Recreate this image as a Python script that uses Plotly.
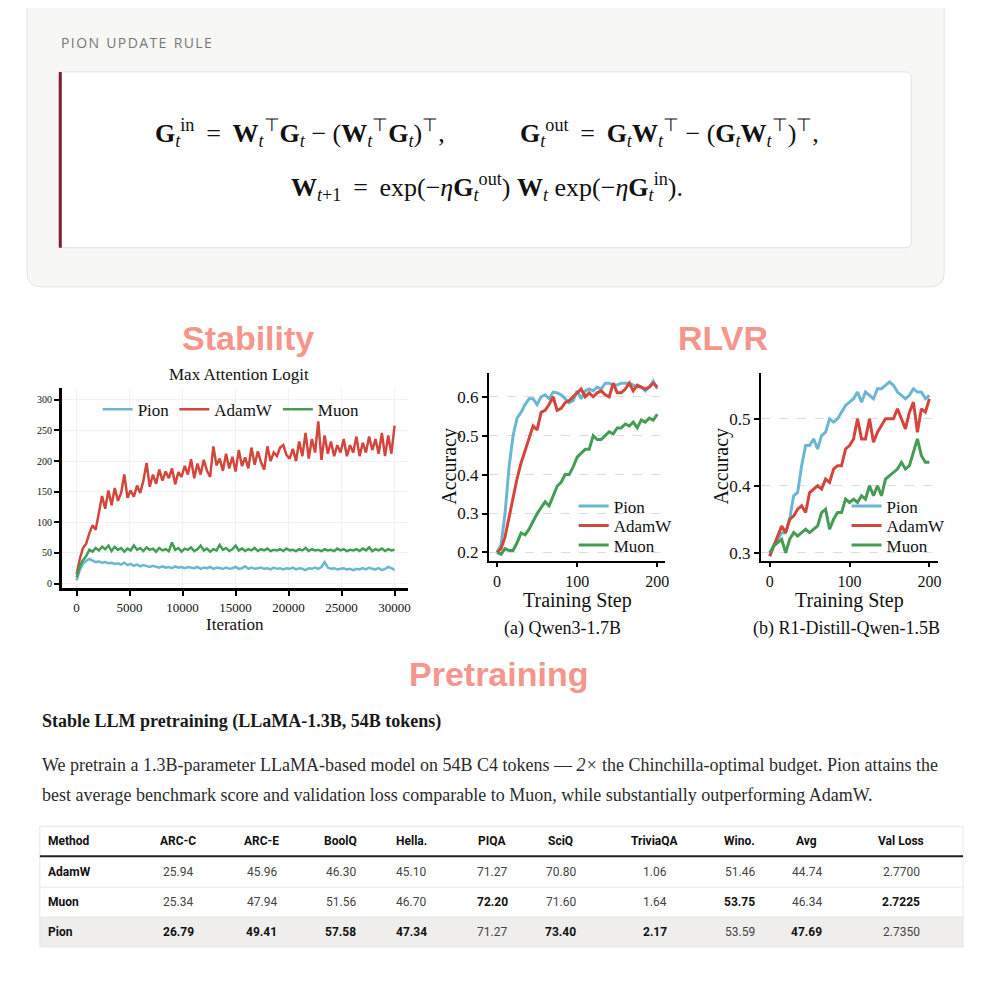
"""Pion optimizer summary - equations, stability / RLVR curves and pretraining table"""

import numpy as np
import plotly.graph_objects as go

PAGE = 993
OFF = 8            # body margin of the page around the plot
W = H = PAGE - 2 * OFF

# Max Attention Logit (sampled every 300 iterations, 0..30000)
attn_pion = [
    5, 22, 32, 37, 40, 37, 35, 36, 34, 35, 33, 34, 32, 33, 31, 34, 30, 32, 29, 31,
    28, 30, 29, 27, 29, 27, 26, 28, 26, 27, 25, 28, 26, 27, 25, 27, 26, 25, 27, 24,
    26, 25, 27, 24, 26, 25, 24, 26, 24, 25, 27, 24, 25, 28, 24, 26, 24, 25, 26, 24,
    25, 23, 26, 24, 25, 23, 25, 24, 26, 23, 25, 24, 22, 25, 24, 26, 24, 27, 35, 26,
    24, 25, 23, 24, 25, 23, 24, 22, 24, 23, 25, 23, 26, 24, 23, 25, 22, 24, 27, 25,
    22,
]
attn_adamw = [
    15, 40, 58, 65, 82, 95, 88, 118, 143, 122, 152, 128, 156, 135, 148, 178, 140, 152, 142, 160,
    148, 168, 197, 158, 178, 163, 186, 168, 183, 172, 188, 162, 182, 174, 192, 178, 203, 172, 196, 178,
    202, 184, 174, 224, 193, 204, 184, 212, 188, 207, 183, 218, 192, 206, 188, 222, 194, 216, 198, 186,
    224, 200, 214, 208, 222, 226, 210, 204, 220, 200, 232, 208, 246, 204, 236, 214, 265, 202, 242, 212,
    232, 208, 226, 214, 236, 208, 226, 214, 240, 208, 230, 214, 240, 218, 236, 212, 246, 208, 242, 212,
    258,
]
attn_muon = [
    10, 28, 38, 45, 55, 52, 58, 54, 60, 56, 62, 53, 60, 55, 58, 52, 57, 54, 62, 55,
    58, 53, 59, 55, 57, 52, 58, 54, 56, 53, 67, 55, 58, 52, 57, 55, 59, 53, 56, 62,
    54, 57, 52, 56, 54, 63, 55, 58, 53, 56, 62, 54, 57, 53, 56, 54, 58, 53, 56, 54,
    57, 53, 55, 54, 56, 53, 57, 54, 55, 53, 56, 54, 58, 53, 56, 54, 55, 53, 56, 54,
    55, 53, 57, 54, 56, 53, 55, 54, 56, 53, 57, 54, 59, 53, 56, 54, 57, 53, 56, 54,
    55,
]

# RLVR accuracy (every 5 training steps, 0..200)
qwen_pion = [
    0.200, 0.220, 0.300, 0.420, 0.500, 0.545, 0.560, 0.580, 0.595, 0.595, 0.580, 0.600,
    0.605, 0.595, 0.612, 0.610, 0.605, 0.595, 0.585, 0.590, 0.615, 0.595, 0.615, 0.620,
    0.615, 0.625, 0.620, 0.635, 0.635, 0.630, 0.630, 0.635, 0.635, 0.635, 0.630, 0.625,
    0.625, 0.615, 0.625, 0.640, 0.620,
]
qwen_adamw = [
    0.200, 0.210, 0.240, 0.290, 0.340, 0.390, 0.430, 0.460, 0.490, 0.525, 0.515, 0.560,
    0.565, 0.580, 0.600, 0.565, 0.570, 0.585, 0.590, 0.600, 0.610, 0.620, 0.600, 0.610,
    0.600, 0.610, 0.615, 0.605, 0.600, 0.635, 0.610, 0.610, 0.620, 0.635, 0.615, 0.630,
    0.625, 0.620, 0.625, 0.635, 0.625,
]
qwen_muon = [
    0.200, 0.195, 0.210, 0.205, 0.205, 0.225, 0.250, 0.245, 0.260, 0.280, 0.300, 0.315,
    0.330, 0.320, 0.345, 0.370, 0.380, 0.400, 0.400, 0.420, 0.445, 0.455, 0.465, 0.465,
    0.500, 0.490, 0.490, 0.500, 0.510, 0.505, 0.520, 0.520, 0.530, 0.525, 0.535, 0.520,
    0.540, 0.535, 0.545, 0.540, 0.555,
]
r1_pion = [
    0.295, 0.310, 0.320, 0.330, 0.330, 0.350, 0.385, 0.390, 0.430, 0.460, 0.460, 0.470,
    0.455, 0.475, 0.480, 0.500, 0.495, 0.500, 0.510, 0.520, 0.525, 0.530, 0.540, 0.525,
    0.540, 0.535, 0.530, 0.545, 0.545, 0.550, 0.555, 0.550, 0.540, 0.535, 0.530, 0.535,
    0.545, 0.540, 0.540, 0.530, 0.535,
]
r1_adamw = [
    0.295, 0.310, 0.325, 0.340, 0.330, 0.350, 0.355, 0.365, 0.370, 0.360, 0.390, 0.395,
    0.400, 0.395, 0.410, 0.405, 0.425, 0.430, 0.430, 0.455, 0.460, 0.470, 0.500, 0.470,
    0.470, 0.500, 0.465, 0.480, 0.490, 0.500, 0.500, 0.500, 0.515, 0.500, 0.485, 0.510,
    0.525, 0.480, 0.515, 0.510, 0.530,
]
r1_muon = [
    0.300, 0.310, 0.315, 0.320, 0.300, 0.320, 0.330, 0.325, 0.330, 0.335, 0.330, 0.335,
    0.340, 0.360, 0.365, 0.335, 0.350, 0.360, 0.360, 0.380, 0.375, 0.380, 0.375, 0.385,
    0.380, 0.400, 0.385, 0.400, 0.385, 0.410, 0.415, 0.420, 0.425, 0.435, 0.425, 0.430,
    0.450, 0.470, 0.445, 0.435, 0.435,
]

# Pretraining table
columns = ["ARC-C", "ARC-E", "BoolQ", "Hella.", "PIQA", "SciQ", "TriviaQA", "Wino.", "Avg", "Val Loss"]
methods = ["AdamW", "Muon", "Pion"]
adamw_scores = [25.94, 45.96, 46.30, 45.10, 71.27, 70.80, 1.06, 51.46, 44.74, 2.7700]
muon_scores = [25.34, 47.94, 51.56, 46.70, 72.20, 71.60, 1.64, 53.75, 46.34, 2.7225]
pion_scores = [26.79, 49.41, 57.58, 47.34, 71.27, 73.40, 2.17, 53.59, 47.69, 2.7350]

BLUE = "#6db6d3"
RED = "#d2463c"
GREEN = "#449c55"
SALMON = "#f4968b"
SERIF = "Liberation Serif"


def fx(p):
    return (p - OFF) / W


def fy(p):
    return 1 - (p - OFF) / H


def rounded_rect(x0, y0, x1, y1, r):
    # pixel box -> svg path in paper units
    a, b, c, d, k = fx(x0), fy(y0), fx(x1), fy(y1), r / W
    return (
        f"M {a + k},{b} L {c - k},{b} Q {c},{b} {c},{b - k} "
        f"L {c},{d + k} Q {c},{d} {c - k},{d} L {a + k},{d} "
        f"Q {a},{d} {a},{d + k} L {a},{b - k} Q {a},{b} {a + k},{b} Z"
    )


annotations = []


def note(text, x, y, size, color="#111", family=SERIF, xanchor="center", angle=0):
    annotations.append(dict(
        text=text, x=fx(x), y=fy(y), xref="paper", yref="paper",
        xanchor=xanchor, yanchor="middle", showarrow=False, textangle=angle,
        font=dict(size=size, color=color, family=family),
    ))


fig = go.Figure()

# Stability chart
for name, vals, color in [("Pion", attn_pion, BLUE), ("AdamW", attn_adamw, RED), ("Muon", attn_muon, GREEN)]:
    fig.add_trace(go.Scatter(
        x=np.linspace(0, 30000, len(vals)), y=vals, mode="lines", name=name,
        line=dict(color=color, width=2.5), xaxis="x", yaxis="y", legend="legend",
    ))

# RLVR charts - one legend per entry so the rows sit tight
legend_boxes = {}
rlvr = [
    ("x2", "y2", 576, [("Pion", qwen_pion, BLUE), ("AdamW", qwen_adamw, RED), ("Muon", qwen_muon, GREEN)]),
    ("x3", "y3", 850, [("Pion", r1_pion, BLUE), ("AdamW", r1_adamw, RED), ("Muon", r1_muon, GREEN)]),
]
n = 2
for xa, ya, lx, series in rlvr:
    for k, (name, vals, color) in enumerate(series):
        key = f"legend{n}"
        fig.add_trace(go.Scatter(
            x=np.linspace(0, 200, len(vals)), y=vals, mode="lines", name=name,
            line=dict(color=color, width=3), xaxis=xa, yaxis=ya, legend=key,
        ))
        legend_boxes[key] = dict(
            x=fx(lx), y=fy(507 + 19.5 * k), xanchor="left", yanchor="middle",
            bgcolor="rgba(0,0,0,0)", font=dict(family=SERIF, size=17, color="#111"),
        )
        n += 1

axis_common = dict(
    showline=True, linecolor="black", ticks="outside", tickcolor="black",
    zeroline=False, tickfont=dict(family=SERIF, color="#111"),
)

shapes = [
    dict(type="path", path=rounded_rect(27, -20, 948, 287, 14), xref="paper", yref="paper",
         fillcolor="#f7f7f5", line=dict(color="#e3e3e1", width=1), layer="below"),
    dict(type="path", path=rounded_rect(59, 72, 915, 248, 6), xref="paper", yref="paper",
         fillcolor="white", line=dict(color="#e2e2e2", width=1), layer="below"),
    dict(type="rect", x0=fx(59), x1=fx(62), y0=fy(248), y1=fy(72), xref="paper", yref="paper",
         fillcolor="#7b1d2e", line=dict(width=0), layer="below"),
    # table
    dict(type="rect", x0=fx(40), x1=fx(967), y0=fy(948), y1=fy(918), xref="paper", yref="paper",
         fillcolor="#efeeec", line=dict(width=0), layer="below"),
    dict(type="rect", x0=fx(40), x1=fx(967), y0=fy(948), y1=fy(827), xref="paper", yref="paper",
         line=dict(color="#e6e6e6", width=1), layer="below"),
    dict(type="line", x0=fx(40), x1=fx(967), y0=fy(857), y1=fy(857), xref="paper", yref="paper",
         line=dict(color="#222", width=2)),
    dict(type="line", x0=fx(40), x1=fx(967), y0=fy(888), y1=fy(888), xref="paper", yref="paper",
         line=dict(color="#e6e6e6", width=1)),
    dict(type="line", x0=fx(40), x1=fx(967), y0=fy(918), y1=fy(918), xref="paper", yref="paper",
         line=dict(color="#e6e6e6", width=1)),
]

# equations box
note("P\u200aI\u200aO\u200aN  U\u200aP\u200aD\u200aA\u200aT\u200aE  R\u200aU\u200aL\u200aE",
     59, 43, 14, "#777", "Open Sans", "left")
T = "<sub><i>t</i></sub>"
EQ = " \u2009=\u2009 "
note(f"<b>G</b>{T}<sup>in</sup>{EQ}<b>W</b>{T}<sup>⊤</sup><b>G</b>{T} − (<b>W</b>{T}<sup>⊤</sup><b>G</b>{T})<sup>⊤</sup>,",
     301, 133, 26)
note(f"<b>G</b>{T}<sup>out</sup>{EQ}<b>G</b>{T}<b>W</b>{T}<sup>⊤</sup> − (<b>G</b>{T}<b>W</b>{T}<sup>⊤</sup>)<sup>⊤</sup>,",
     672, 133, 26)
note(f"<b>W</b><sub><i>t</i>+1</sub>{EQ}exp(−<i>η</i><b>G</b>{T}<sup>out</sup>) <b>W</b>{T} exp(−<i>η</i><b>G</b>{T}<sup>in</sup>).",
     489, 187, 26)

# section headings
note("<b>Stability</b>", 249, 338, 34, SALMON, "Liberation Sans")
note("<b>RLVR</b>", 726, 338, 34, SALMON, "Liberation Sans")
note("<b>Pretraining</b>", 501, 675, 34, SALMON, "Liberation Sans")

# chart labels
note("Max Attention Logit", 240, 375, 17)
note("Iteration", 236, 625, 17)
note("Accuracy", 451, 467, 20, angle=-90)
note("Accuracy", 724, 467, 20, angle=-90)
note("Training Step", 580, 601, 20)
note("Training Step", 853, 601, 20)
note("(a) Qwen3-1.7B", 565, 629, 18)
note("(b) R1-Distill-Qwen-1.5B", 850, 629, 18)

# pretraining text
note("<b>Stable LLM pretraining (LLaMA-1.3B, 54B tokens)</b>", 40, 722, 18, "#1a1a1a", xanchor="left")
note("We pretrain a 1.3B-parameter LLaMA-based model on 54B C4 tokens — <i>2×</i> the "
     "Chinchilla-optimal budget. Pion attains the", 40, 766, 18, "#2b2b2b", xanchor="left")
note("best average benchmark score and validation loss comparable to Muon, while substantially "
     "outperforming AdamW.", 40, 796, 18, "#2b2b2b", xanchor="left")

# table
col_x = [179, 263, 342, 413, 494, 563, 658, 743, 810, 905]
row_y = [873, 903, 933]
rows = [adamw_scores, muon_scores, pion_scores]
TF = "Roboto"
note("<b>Method</b>", 46, 842, 12, "#111", TF, "left")
for cx, col in zip(col_x, columns):
    note(f"<b>{col}</b>", cx, 842, 12, "#111", TF)
for j, col in enumerate(columns):
    col_vals = [r[j] for r in rows]
    best = min(col_vals) if col == "Val Loss" else max(col_vals)
    for i, r in enumerate(rows):
        txt = f"{r[j]:.4f}" if col == "Val Loss" else f"{r[j]:.2f}"
        if r[j] == best:
            note(f"<b>{txt}</b>", col_x[j], row_y[i], 12, "#111", TF)
        else:
            note(txt, col_x[j], row_y[i], 12, "#444", TF)
for i, m in enumerate(methods):
    note(f"<b>{m}</b>", 46, row_y[i], 12, "#111", TF, "left")

fig.update_layout(
    width=W, height=H, margin=dict(l=0, r=0, t=0, b=0),
    paper_bgcolor="white", plot_bgcolor="white",
    shapes=shapes, annotations=annotations,
    xaxis=dict(**axis_common, domain=[fx(62), fx(410)], range=[-1400, 31300],
               tickvals=[0, 5000, 10000, 15000, 20000, 25000, 30000], tickformat="d",
               showgrid=True, gridcolor="#f1f1f1", linewidth=2.5, tickwidth=2, ticklen=5,
               tickfont_size=13, anchor="y"),
    yaxis=dict(**axis_common, domain=[fy(589), fy(388)], range=[-8, 320],
               tickvals=[0, 50, 100, 150, 200, 250, 300],
               showgrid=True, gridcolor="#f1f1f1", linewidth=2.5, tickwidth=1.5, ticklen=5,
               tickfont_size=10, anchor="x"),
    xaxis2=dict(**axis_common, domain=[fx(491), fx(668)], range=[-10, 210],
                tickvals=[0, 100, 200], showgrid=False, linewidth=2, tickwidth=1.5, ticklen=4,
                tickfont_size=16, anchor="y2"),
    yaxis2=dict(**axis_common, domain=[fy(562), fy(373)], range=[0.177, 0.662],
                tickvals=[0.2, 0.3, 0.4, 0.5, 0.6], tickformat=".1f",
                showgrid=True, gridcolor="#dddddd", griddash="dash", gridwidth=1,
                linewidth=2, tickwidth=1.5, ticklen=5, tickfont_size=17, anchor="x2"),
    xaxis3=dict(**axis_common, domain=[fx(764), fx(942)], range=[-11, 211],
                tickvals=[0, 100, 200], showgrid=False, linewidth=2, tickwidth=1.5, ticklen=4,
                tickfont_size=16, anchor="y3"),
    yaxis3=dict(**axis_common, domain=[fy(562), fy(373)], range=[0.287, 0.569],
                tickvals=[0.3, 0.4, 0.5], tickformat=".1f",
                showgrid=True, gridcolor="#dddddd", griddash="dash", gridwidth=1,
                linewidth=2, tickwidth=1.5, ticklen=5, tickfont_size=17, anchor="x3"),
    legend=dict(orientation="h", x=fx(98), y=fy(392), xanchor="left", yanchor="top",
                bgcolor="rgba(0,0,0,0)", font=dict(family=SERIF, size=17, color="#111")),
    **legend_boxes,
)

fig.write_html("out.html")
